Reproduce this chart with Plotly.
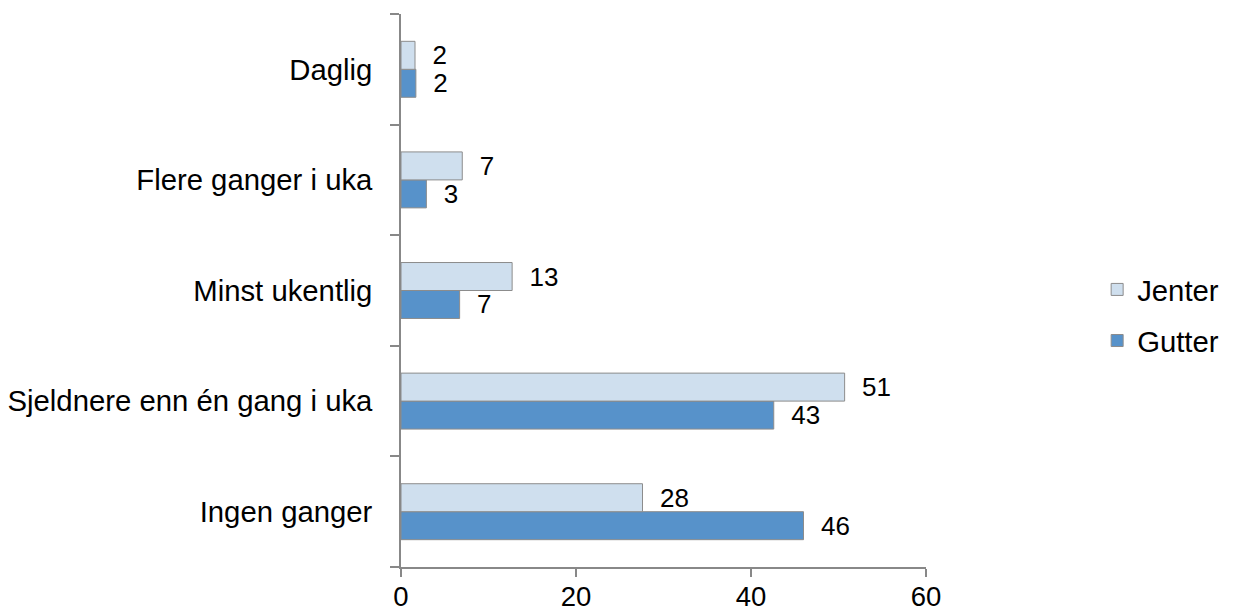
import plotly.graph_objects as go

categories = ["Ingen ganger", "Sjeldnere enn én gang i uka", "Minst ukentlig",
              "Flere ganger i uka", "Daglig"]
jenter = [27.6, 50.7, 12.7, 7.0, 1.6]
gutter = [46.0, 42.6, 6.7, 2.9, 1.7]
x_ticks = [0, 20, 40, 60]

NB = "\u00a0"
font_family = "Liberation Sans, Arial, sans-serif"
FS = 29.3

fig = go.Figure()
fig.add_trace(go.Bar(
    y=categories, x=gutter, orientation="h", name="Gutter",
    marker=dict(color="#5792ca", line=dict(color="#8c8c8c", width=1)),
    text=[NB * 2 + f"{round(v)}" for v in gutter], textposition="outside",
    textfont=dict(size=26, color="black", family=font_family),
    constraintext="none", cliponaxis=False, legendgroup="g", legendrank=2,
    hoverinfo="skip",
))
fig.add_trace(go.Bar(
    y=categories, x=jenter, orientation="h", name="Jenter",
    marker=dict(color="#cfdfee", line=dict(color="#8c8c8c", width=1)),
    text=[NB * 2 + f"{round(v)}" for v in jenter], textposition="outside",
    textfont=dict(size=26, color="black", family=font_family),
    constraintext="none", cliponaxis=False, legendgroup="j", legendrank=1,
    hoverinfo="skip",
))

fig.update_layout(
    width=1233, height=613,
    margin=dict(l=401, r=307, t=14, b=46, autoexpand=False),
    paper_bgcolor="white", plot_bgcolor="white",
    barmode="group", bargap=0.494, bargroupgap=0,
    font=dict(family=font_family, color="black", size=FS),
    showlegend=True,
    legend=dict(traceorder="grouped", tracegroupgap=10,
                x=1.326, xanchor="left", y=0.455, yanchor="middle",
                font=dict(size=FS), itemwidth=30),
    xaxis=dict(range=[0, 60], tickvals=x_ticks, showgrid=False, zeroline=False,
               showline=True, linecolor="#888888", linewidth=1.5,
               ticks="outside", ticklen=8, tickcolor="#888888", tickwidth=1.5,
               ticklabelstandoff=-4,
               tickfont=dict(size=27.5), automargin=False),
    yaxis=dict(categoryorder="array", categoryarray=categories,
               showgrid=False, zeroline=False,
               showline=True, linecolor="#888888", linewidth=1.5,
               ticks="outside", ticklen=9, tickcolor="#888888", tickwidth=1.5,
               tickson="boundaries", ticklabelstandoff=21,
               tickfont=dict(size=FS), automargin=False),
)

fig.write_html("out.html", config={"displayModeBar": False},
               post_script="document.body.style.margin='0';document.body.style.overflow='hidden';")
